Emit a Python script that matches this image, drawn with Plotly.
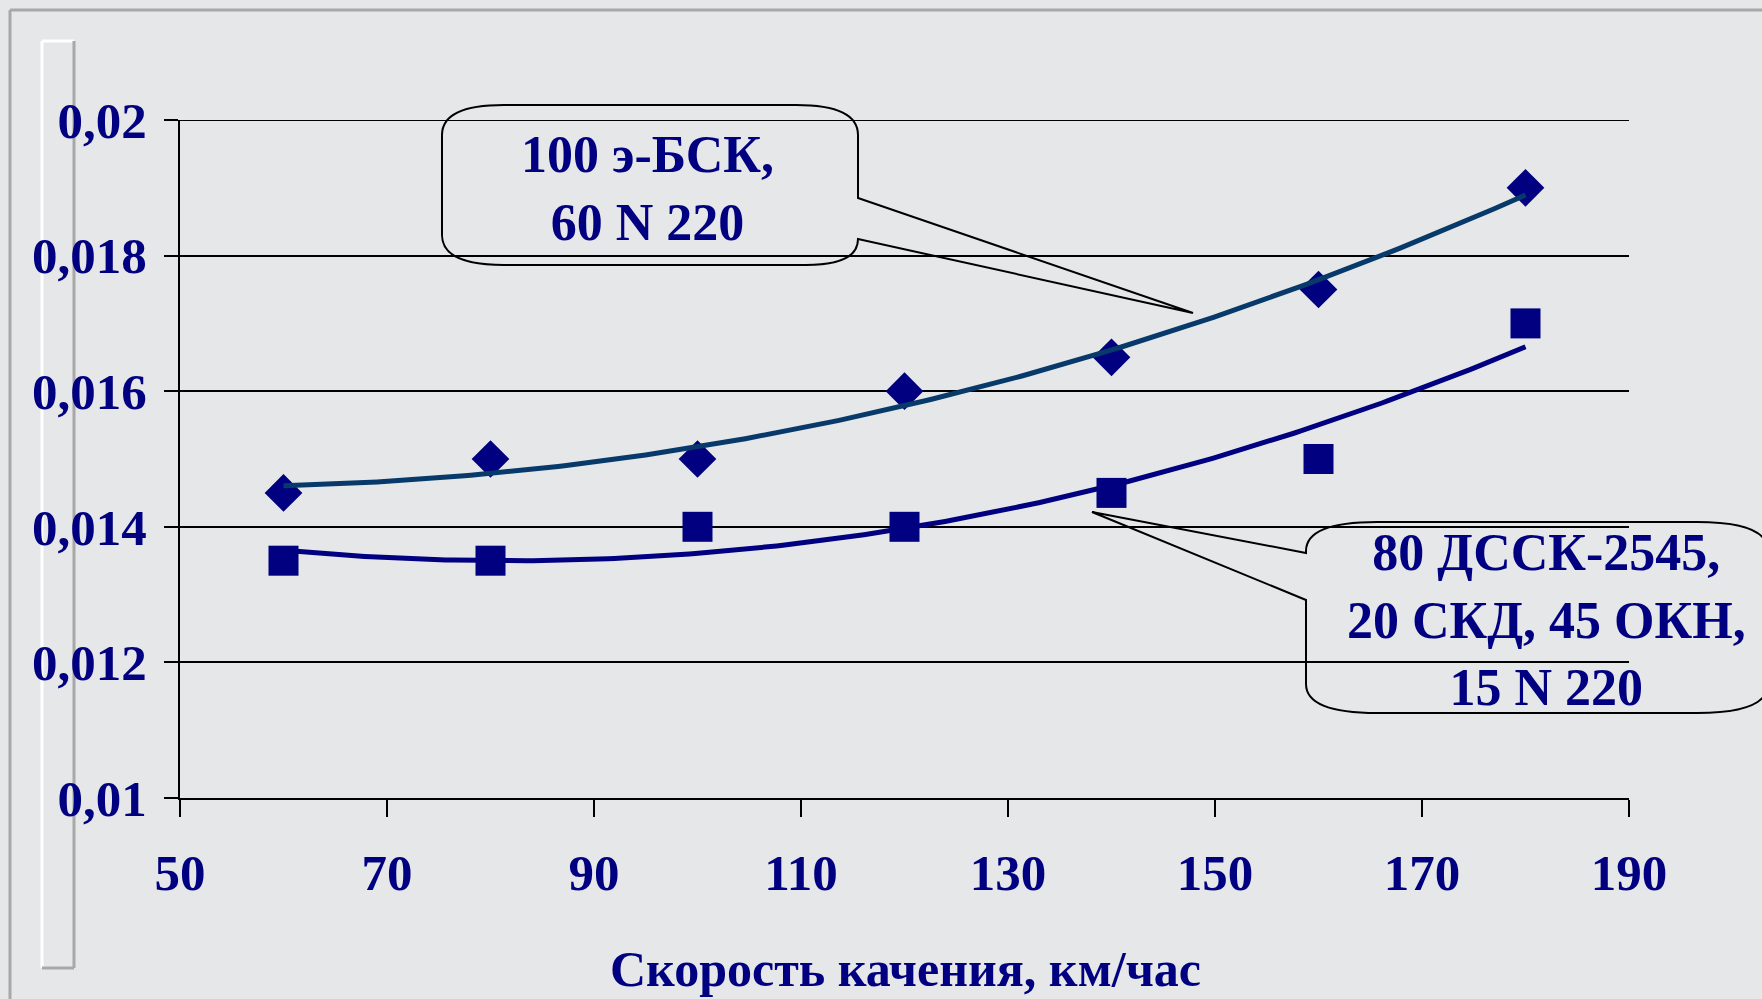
import numpy as np
import plotly.graph_objects as go

# ---- data ----
speed = [60, 80, 100, 120, 140, 160, 180]
bsk_values = [0.0145, 0.0150, 0.0150, 0.0160, 0.0165, 0.0175, 0.0190]
dssk_values = [0.0135, 0.0135, 0.0140, 0.0140, 0.0145, 0.0150, 0.0170]
x_ticks = [50, 70, 90, 110, 130, 150, 170, 190]
y_ticks = [0.010, 0.012, 0.014, 0.016, 0.018, 0.020]
y_tick_labels = ["0,01", "0,012", "0,014", "0,016", "0,018", "0,02"]
label_bsk = "100 э-БСК,<br>60 N 220"
label_dssk = "80 ДССК-2545,<br>20 СКД, 45 ОКН,<br>15 N 220"
x_title = "Скорость качения, км/час"

NAVY = "#000080"
TEAL = "#073a6a"
FONT = "Liberation Serif"

# polynomial (2nd order) trend lines, as in the original chart
xs = np.linspace(min(speed), max(speed), 200)
fit_bsk = np.polyval(np.polyfit(speed, bsk_values, 2), xs)
fit_dssk = np.polyval(np.polyfit(speed, dssk_values, 2), xs)

W_PX, H_PX = 1762, 999
L, T, PW, PH = 180, 120, 1449, 678


def px(x):
    return (x - L) / PW


def py(y):
    return (T + PH - y) / PH


fig = go.Figure()
fig.add_trace(go.Scatter(x=speed, y=bsk_values, mode="markers",
                         marker=dict(symbol="diamond", size=29, color=NAVY, line=dict(width=0)),
                         showlegend=False))
fig.add_trace(go.Scatter(x=speed, y=dssk_values, mode="markers",
                         marker=dict(symbol="square", size=30, color=NAVY, line=dict(width=0)),
                         showlegend=False))
fig.add_trace(go.Scatter(x=xs, y=fit_bsk, mode="lines",
                         line=dict(color=TEAL, width=5), showlegend=False))
fig.add_trace(go.Scatter(x=xs, y=fit_dssk, mode="lines",
                         line=dict(color=NAVY, width=5), showlegend=False))

tickfont = dict(family=FONT, size=51, color=NAVY, weight="bold")

fig.update_xaxes(range=[50, 190], tickvals=x_ticks, ticktext=[str(v) for v in x_ticks],
                 showgrid=False, zeroline=False, showline=True, linecolor="black", linewidth=2,
                 ticks="outside", ticklen=17, tickwidth=2, tickcolor="black",
                 tickfont=tickfont, automargin=False, ticklabelstandoff=12)
fig.update_yaxes(range=[0.010, 0.020], tickvals=y_ticks, ticktext=y_tick_labels,
                 showgrid=True, gridcolor="black", gridwidth=2, zeroline=False,
                 showline=True, linecolor="black", linewidth=2,
                 ticks="outside", ticklen=14, tickwidth=2, tickcolor="black",
                 tickfont=tickfont, automargin=False, ticklabelstandoff=7)


def P(x, y):
    return f"{px(x):.5f},{py(y):.5f}"


# callout 1 (upper curve)
l1, r1, t1, b1, rx1, ry1 = 442, 858, 105, 265, 62, 30
tip1 = (1193, 313)
path1 = (f"M {P(l1+rx1, t1)} L {P(r1-rx1, t1)} Q {P(r1, t1)} {P(r1, t1+ry1)} "
         f"L {P(r1, 198)} L {P(*tip1)} L {P(r1, 239)} "
         f"Q {P(r1, b1)} {P(r1-rx1+10, b1)} L {P(l1+rx1, b1)} Q {P(l1, b1)} {P(l1, b1-ry1)} "
         f"L {P(l1, t1+ry1)} Q {P(l1, t1)} {P(l1+rx1, t1)} Z")

# callout 2 (lower curve)
l2, r2, t2, b2, rx2, ry2 = 1306, 1768, 522, 713, 71, 29
tip2 = (1092, 512)
path2 = (f"M {P(l2+rx2, t2)} L {P(r2-rx2, t2)} Q {P(r2, t2)} {P(r2, t2+ry2)} "
         f"L {P(r2, b2-ry2)} Q {P(r2, b2)} {P(r2-rx2, b2)} L {P(l2+rx2, b2)} "
         f"Q {P(l2, b2)} {P(l2, b2-ry2)} L {P(l2, 600)} L {P(*tip2)} L {P(l2, 553)} "
         f"L {P(l2, t2+ry2)} Q {P(l2, t2)} {P(l2+rx2, t2)} Z")

shapes = [
    # top gridline at the upper range limit
    dict(type="line", xref="paper", yref="y", x0=0, x1=1, y0=y_ticks[-1], y1=y_ticks[-1],
         line=dict(color="black", width=2), layer="below"),
    dict(type="path", xref="paper", yref="paper", path=path1,
         line=dict(color="black", width=2), fillcolor="rgba(0,0,0,0)", layer="above"),
    dict(type="path", xref="paper", yref="paper", path=path2,
         line=dict(color="black", width=2), fillcolor="rgba(0,0,0,0)", layer="above"),
    # slide frame decoration
    dict(type="line", xref="paper", yref="paper", x0=px(10), x1=px(1762), y0=py(10), y1=py(10),
         line=dict(color="#a8a8a8", width=3), layer="below"),
    dict(type="line", xref="paper", yref="paper", x0=px(10), x1=px(10), y0=py(10), y1=py(999),
         line=dict(color="#a8a8a8", width=3), layer="below"),
    dict(type="line", xref="paper", yref="paper", x0=px(42), x1=px(42), y0=py(41), y1=py(968),
         line=dict(color="white", width=3), layer="below"),
    dict(type="line", xref="paper", yref="paper", x0=px(42), x1=px(74), y0=py(41), y1=py(41),
         line=dict(color="white", width=3), layer="below"),
    dict(type="line", xref="paper", yref="paper", x0=px(74), x1=px(74), y0=py(41), y1=py(968),
         line=dict(color="#a8a8a8", width=3), layer="below"),
    dict(type="line", xref="paper", yref="paper", x0=px(42), x1=px(74), y0=py(968), y1=py(968),
         line=dict(color="#a8a8a8", width=3), layer="below"),
]

annfont = dict(family=FONT, size=52, color=NAVY, weight="bold")
annotations = [
    dict(text=label_bsk, xref="paper", yref="paper", x=px(647), y=py(188),
         xanchor="center", yanchor="middle", showarrow=False, align="center", font=annfont),
    dict(text=label_dssk, xref="paper", yref="paper", x=px(1546), y=py(620),
         xanchor="center", yanchor="middle", showarrow=False, align="center", font=annfont),
    dict(text=x_title, xref="paper", yref="paper", x=px(905), y=py(969),
         xanchor="center", yanchor="middle", showarrow=False,
         font=dict(family=FONT, size=50, color=NAVY, weight="bold")),
]

fig.update_layout(
    width=W_PX, height=H_PX,
    margin=dict(l=L, r=W_PX - L - PW, t=T, b=H_PX - T - PH, pad=0),
    paper_bgcolor="#e6e7e9", plot_bgcolor="#e6e7e9",
    font=dict(family=FONT, color=NAVY),
    shapes=shapes, annotations=annotations,
)

fig.write_html("out.html")
